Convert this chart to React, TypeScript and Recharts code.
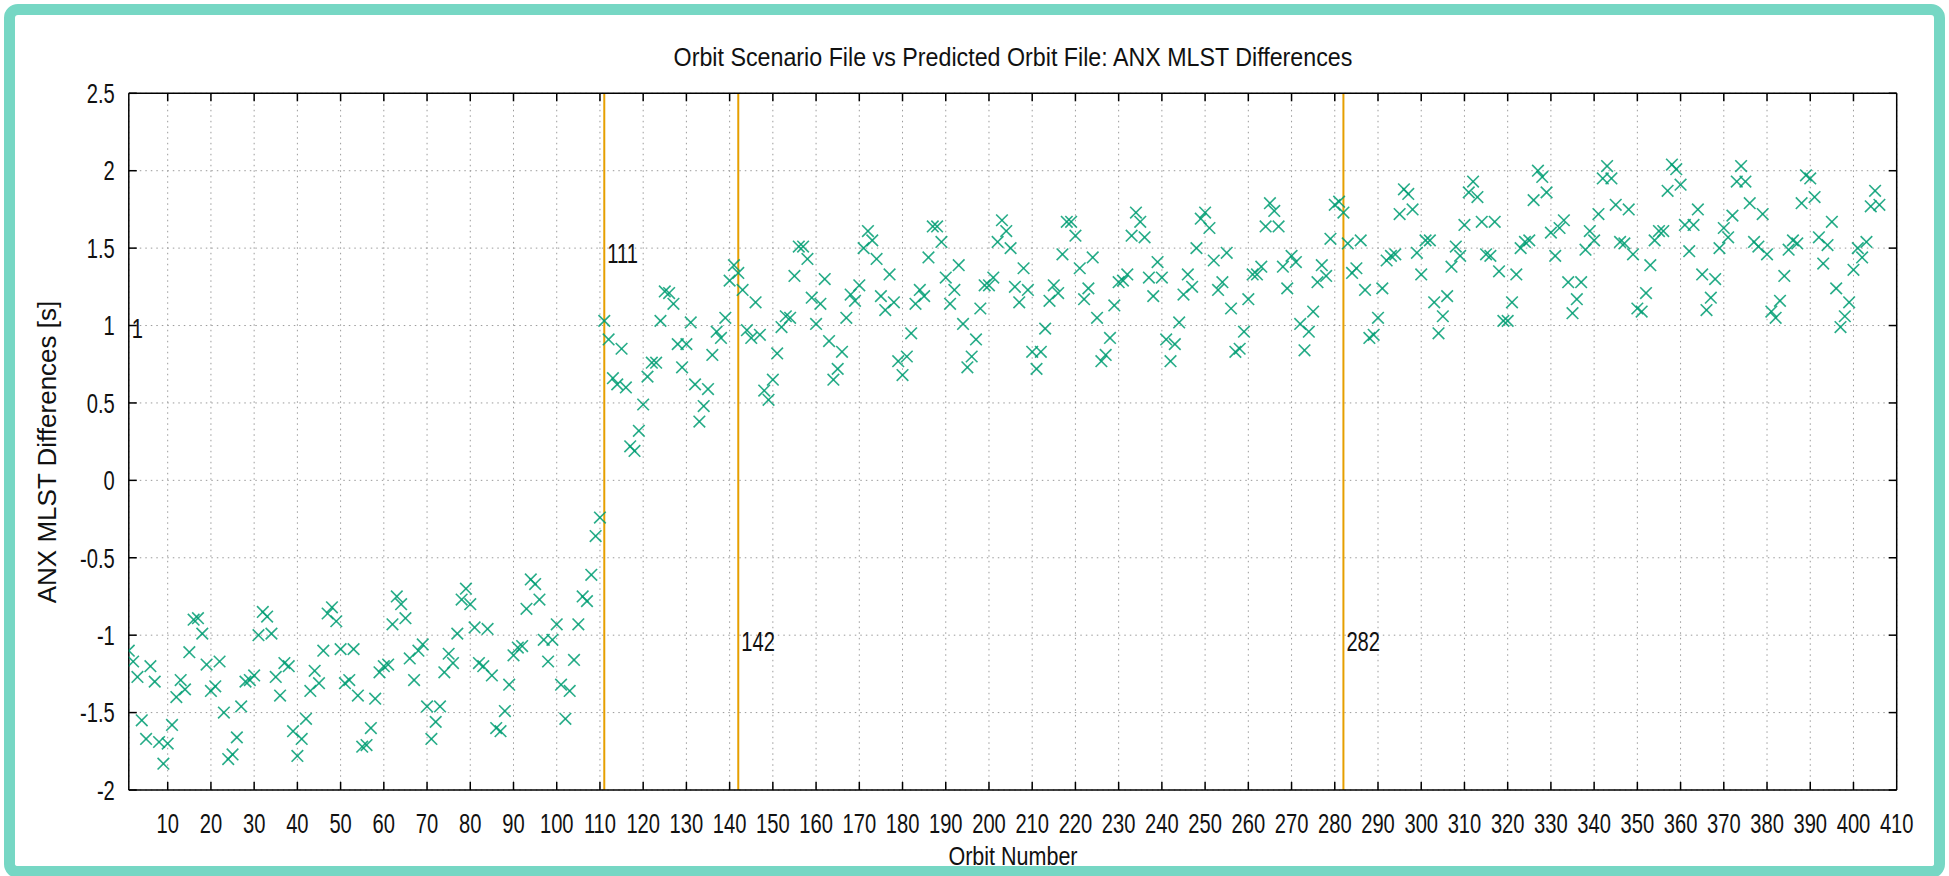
import React from 'react'
import { CartesianGrid, ReferenceLine, Scatter, ScatterChart, XAxis, YAxis } from 'recharts'

const W = 1949
const H = 876
// plot box in page pixels
const PLOT = { left: 128.8, top: 93.3, right: 1896.7, bottom: 790 }
const FONT = "'Liberation Sans', Arial, sans-serif"
const FS = 28
const NARROW = 0.72
const TEAL = '#76d7c4'
const GREEN = '#009e73'
const ORANGE = '#e69f00'
const TICK = 8

const title = 'Orbit Scenario File vs Predicted Orbit File: ANX MLST Differences'
const xLabel = 'Orbit Number'
const yLabel = 'ANX MLST Differences [s]'

const xTicks = [10, 20, 30, 40, 50, 60, 70, 80, 90, 100, 110, 120, 130, 140, 150, 160, 170, 180, 190, 200, 210, 220, 230, 240, 250, 260, 270, 280, 290, 300, 310, 320, 330, 340, 350, 360, 370, 380, 390, 400, 410]
const yTicks = [-2, -1.5, -1, -0.5, 0, 0.5, 1, 1.5, 2, 2.5]

const markerOrbits = [111, 142, 282]
const markerLabels = ['1', '111', '142', '282']
const markerLabelOrbits = [1, 111, 142, 282]
const markerLabelLevels = [0.98, 1.47, -1.04, -1.04]

// orbits 1..110
const diffs1 = [
  -1.10, -1.17, -1.27, -1.55, -1.67, -1.20, -1.30, -1.69, -1.83, -1.70,
  -1.58, -1.40, -1.29, -1.35, -1.11, -0.90, -0.89, -0.99, -1.19, -1.36,
  -1.33, -1.17, -1.50, -1.80, -1.77, -1.66, -1.46, -1.30, -1.29, -1.26,
  -1.00, -0.85, -0.88, -0.99, -1.27, -1.39, -1.18, -1.20, -1.62, -1.78,
  -1.67, -1.54, -1.36, -1.23, -1.31, -1.10, -0.86, -0.82, -0.91, -1.09,
  -1.31, -1.29, -1.09, -1.39, -1.72, -1.71, -1.60, -1.41, -1.24, -1.20,
  -1.19, -0.93, -0.75, -0.80, -0.89, -1.15, -1.29, -1.10, -1.06, -1.46,
  -1.67, -1.56, -1.46, -1.24, -1.12, -1.18, -0.99, -0.77, -0.70, -0.80,
  -0.95, -1.18, -1.20, -0.96, -1.26, -1.60, -1.62, -1.49, -1.32, -1.13,
  -1.08, -1.07, -0.83, -0.64, -0.67, -0.77, -1.03, -1.17, -1.03, -0.93,
  -1.32, -1.54, -1.36, -1.16, -0.93, -0.75, -0.78, -0.61, -0.36, -0.24,
]
// orbits 111..141
const diffs2 = [
  1.03, 0.91, 0.66, 0.62, 0.85, 0.60, 0.22, 0.19, 0.32, 0.49,
  0.67, 0.76, 0.76, 1.03, 1.22, 1.21, 1.14, 0.88, 0.73, 0.88,
  1.02, 0.62, 0.38, 0.48, 0.59, 0.81, 0.96, 0.92, 1.05, 1.29,
  1.39,
]
// orbits 142..281
const diffs3 = [
  1.34, 1.23, 0.97, 0.92, 1.15, 0.94, 0.58, 0.52, 0.65, 0.82,
  0.99, 1.06, 1.05, 1.32, 1.51, 1.51, 1.43, 1.18, 1.01, 1.14,
  1.30, 0.90, 0.65, 0.72, 0.83, 1.05, 1.20, 1.16, 1.26, 1.50,
  1.61, 1.55, 1.43, 1.19, 1.10, 1.33, 1.15, 0.77, 0.68, 0.80,
  0.95, 1.14, 1.23, 1.19, 1.44, 1.64, 1.64, 1.54, 1.31, 1.14,
  1.23, 1.39, 1.01, 0.73, 0.80, 0.91, 1.11, 1.26, 1.26, 1.31,
  1.54, 1.68, 1.61, 1.50, 1.25, 1.15, 1.37, 1.23, 0.83, 0.72,
  0.83, 0.98, 1.16, 1.26, 1.21, 1.46, 1.67, 1.67, 1.58, 1.37,
  1.17, 1.24, 1.44, 1.05, 0.77, 0.81, 0.92, 1.13, 1.28, 1.29,
  1.33, 1.58, 1.73, 1.67, 1.57, 1.31, 1.19, 1.41, 1.31, 0.91,
  0.77, 0.88, 1.02, 1.20, 1.33, 1.25, 1.50, 1.69, 1.73, 1.63,
  1.42, 1.23, 1.28, 1.47, 1.11, 0.83, 0.85, 0.96, 1.17, 1.33,
  1.33, 1.38, 1.64, 1.79, 1.74, 1.64, 1.38, 1.24, 1.45, 1.41,
  1.01, 0.84, 0.96, 1.09, 1.28, 1.39, 1.32, 1.56, 1.78, 1.80,
]
// orbits 282..406
const diffs4 = [
  1.73, 1.53, 1.34, 1.37, 1.55, 1.23, 0.92, 0.94, 1.05, 1.24,
  1.42, 1.45, 1.46, 1.72, 1.88, 1.85, 1.75, 1.47, 1.33, 1.55,
  1.55, 1.15, 0.95, 1.06, 1.19, 1.38, 1.51, 1.45, 1.65, 1.86,
  1.93, 1.83, 1.67, 1.46, 1.45, 1.67, 1.35, 1.03, 1.03, 1.15,
  1.33, 1.50, 1.54, 1.55, 1.81, 2.00, 1.96, 1.86, 1.60, 1.45,
  1.63, 1.68, 1.28, 1.08, 1.17, 1.28, 1.49, 1.61, 1.55, 1.72,
  1.95, 2.03, 1.95, 1.78, 1.54, 1.53, 1.75, 1.46, 1.11, 1.09,
  1.21, 1.39, 1.55, 1.61, 1.61, 1.87, 2.04, 2.01, 1.91, 1.65,
  1.48, 1.65, 1.75, 1.33, 1.10, 1.18, 1.30, 1.50, 1.63, 1.57,
  1.71, 1.93, 2.03, 1.93, 1.79, 1.54, 1.51, 1.72, 1.46, 1.09,
  1.05, 1.16, 1.32, 1.49, 1.55, 1.53, 1.79, 1.97, 1.95, 1.83,
  1.57, 1.40, 1.52, 1.67, 1.24, 0.99, 1.06, 1.15, 1.36, 1.50,
  1.44, 1.54, 1.77, 1.87, 1.78,
]
const segmentStarts = [1, 111, 142, 282]

const points = [diffs1, diffs2, diffs3, diffs4].flatMap((seg, s) =>
  seg.map((diff, i) => ({ orbit: segmentStarts[s] + i, diff })),
)
const labelPoints = markerLabels.map((text, i) => ({
  orbit: markerLabelOrbits[i],
  diff: markerLabelLevels[i],
  text,
}))

const txt = { fontFamily: FONT, fontSize: FS, fill: '#111' }

// gnuplot's labels are narrow, squeeze them horizontally
const NarrowText = ({ x, y, anchor, children }: any) => (
  <text
    transform={`translate(${x},${y}) scale(${NARROW},1)`}
    textAnchor={anchor}
    dominantBaseline="central"
    {...txt}
  >
    {children}
  </text>
)

const BottomTick = ({ x, y, payload }: any) => (
  <g>
    {payload.value < 410 && <line x1={x} x2={x} y1={y} y2={y - TICK} stroke="#000" strokeWidth={1.5} />}
    <NarrowText x={x} y={y + 33} anchor="middle">
      {payload.value}
    </NarrowText>
  </g>
)
const TopTick = ({ x, y, payload }: any) =>
  payload.value < 410 ? <line x1={x} x2={x} y1={y} y2={y + TICK} stroke="#000" strokeWidth={1.5} /> : <g />
const LeftTick = ({ x, y, payload }: any) => (
  <g>
    <line x1={x} x2={x + TICK} y1={y} y2={y} stroke="#000" strokeWidth={1.5} />
    <NarrowText x={x - 14} y={y} anchor="end">
      {payload.value}
    </NarrowText>
  </g>
)
const RightTick = ({ x, y }: any) => <line x1={x} x2={x - TICK} y1={y} y2={y} stroke="#000" strokeWidth={1.5} />

const Cross = ({ cx, cy }: any) => {
  if (cx == null || cy == null) return <g />
  const s = 5.8
  return (
    <g stroke={GREEN} strokeWidth={1.6} strokeOpacity={0.85}>
      <line x1={cx - s} y1={cy - s} x2={cx + s} y2={cy + s} />
      <line x1={cx - s} y1={cy + s} x2={cx + s} y2={cy - s} />
    </g>
  )
}

const MarkerText = ({ cx, cy, payload }: any) =>
  cx == null ? <g /> : (
    <NarrowText x={cx + 3} y={cy} anchor="start">
      {payload.text}
    </NarrowText>
  )

const Y_AXIS_W = 100
const X_AXIS_H = 50
const MIRROR = 10

const labelStyle = {
  position: 'absolute' as const,
  fontFamily: FONT,
  fontSize: 25,
  color: '#111',
  whiteSpace: 'nowrap' as const,
  lineHeight: 1,
}

export default function App() {
  const axisLine = { stroke: '#000', strokeWidth: 1.5 }
  const centerX = (PLOT.left + PLOT.right) / 2
  return (
    <div style={{ position: 'absolute', left: 0, top: 0, width: W, height: H, background: '#fff', overflow: 'hidden' }}>
      <ScatterChart
        width={W}
        height={H}
        margin={{
          left: PLOT.left - Y_AXIS_W,
          top: PLOT.top - MIRROR,
          right: W - PLOT.right - MIRROR,
          bottom: H - PLOT.bottom - X_AXIS_H,
        }}
      >
        <CartesianGrid stroke="#9a9a9a" strokeDasharray="1.5 4" strokeWidth={1} />
        <XAxis
          type="number"
          dataKey="orbit"
          domain={[1, 410]}
          allowDataOverflow
          ticks={xTicks}
          interval={0}
          height={X_AXIS_H}
          tickSize={0}
          tickMargin={0}
          tickLine={false}
          axisLine={axisLine}
          tick={<BottomTick />}
        />
        <XAxis
          xAxisId="top"
          orientation="top"
          type="number"
          dataKey="orbit"
          domain={[1, 410]}
          allowDataOverflow
          ticks={xTicks}
          interval={0}
          height={MIRROR}
          tickSize={0}
          tickMargin={0}
          tickLine={false}
          axisLine={axisLine}
          tick={<TopTick />}
        />
        <YAxis
          type="number"
          dataKey="diff"
          domain={[-2, 2.5]}
          allowDataOverflow
          ticks={yTicks}
          interval={0}
          width={Y_AXIS_W}
          tickSize={0}
          tickMargin={0}
          tickLine={false}
          axisLine={axisLine}
          tick={<LeftTick />}
        />
        <YAxis
          yAxisId="right"
          orientation="right"
          type="number"
          dataKey="diff"
          domain={[-2, 2.5]}
          allowDataOverflow
          ticks={yTicks}
          interval={0}
          width={MIRROR}
          tickSize={0}
          tickMargin={0}
          tickLine={false}
          axisLine={axisLine}
          tick={<RightTick />}
        />
        {markerOrbits.map((o) => (
          <ReferenceLine key={o} x={o} stroke={ORANGE} strokeWidth={2} />
        ))}
        <Scatter data={points} shape={<Cross />} isAnimationActive={false} />
        <Scatter data={labelPoints} shape={<MarkerText />} isAnimationActive={false} />
      </ScatterChart>

      <div style={{ ...labelStyle, left: centerX, top: 57, transform: 'translate(-50%, -50%) scaleX(0.93)' }}>
        {title}
      </div>
      <div style={{ ...labelStyle, left: centerX, top: 856, transform: 'translate(-50%, -50%) scaleX(0.86)' }}>
        {xLabel}
      </div>
      <div
        style={{
          ...labelStyle,
          left: 47,
          top: 452,
          transform: 'translate(-50%, -50%) rotate(-90deg) scaleX(1.04)',
        }}
      >
        {yLabel}
      </div>
      <div
        style={{
          position: 'absolute',
          left: 4,
          top: 4,
          width: W - 8,
          height: H - 2,
          border: `11px solid ${TEAL}`,
          borderBottomWidth: 12,
          borderRadius: 14,
          boxSizing: 'border-box',
          pointerEvents: 'none',
        }}
      />
    </div>
  )
}
